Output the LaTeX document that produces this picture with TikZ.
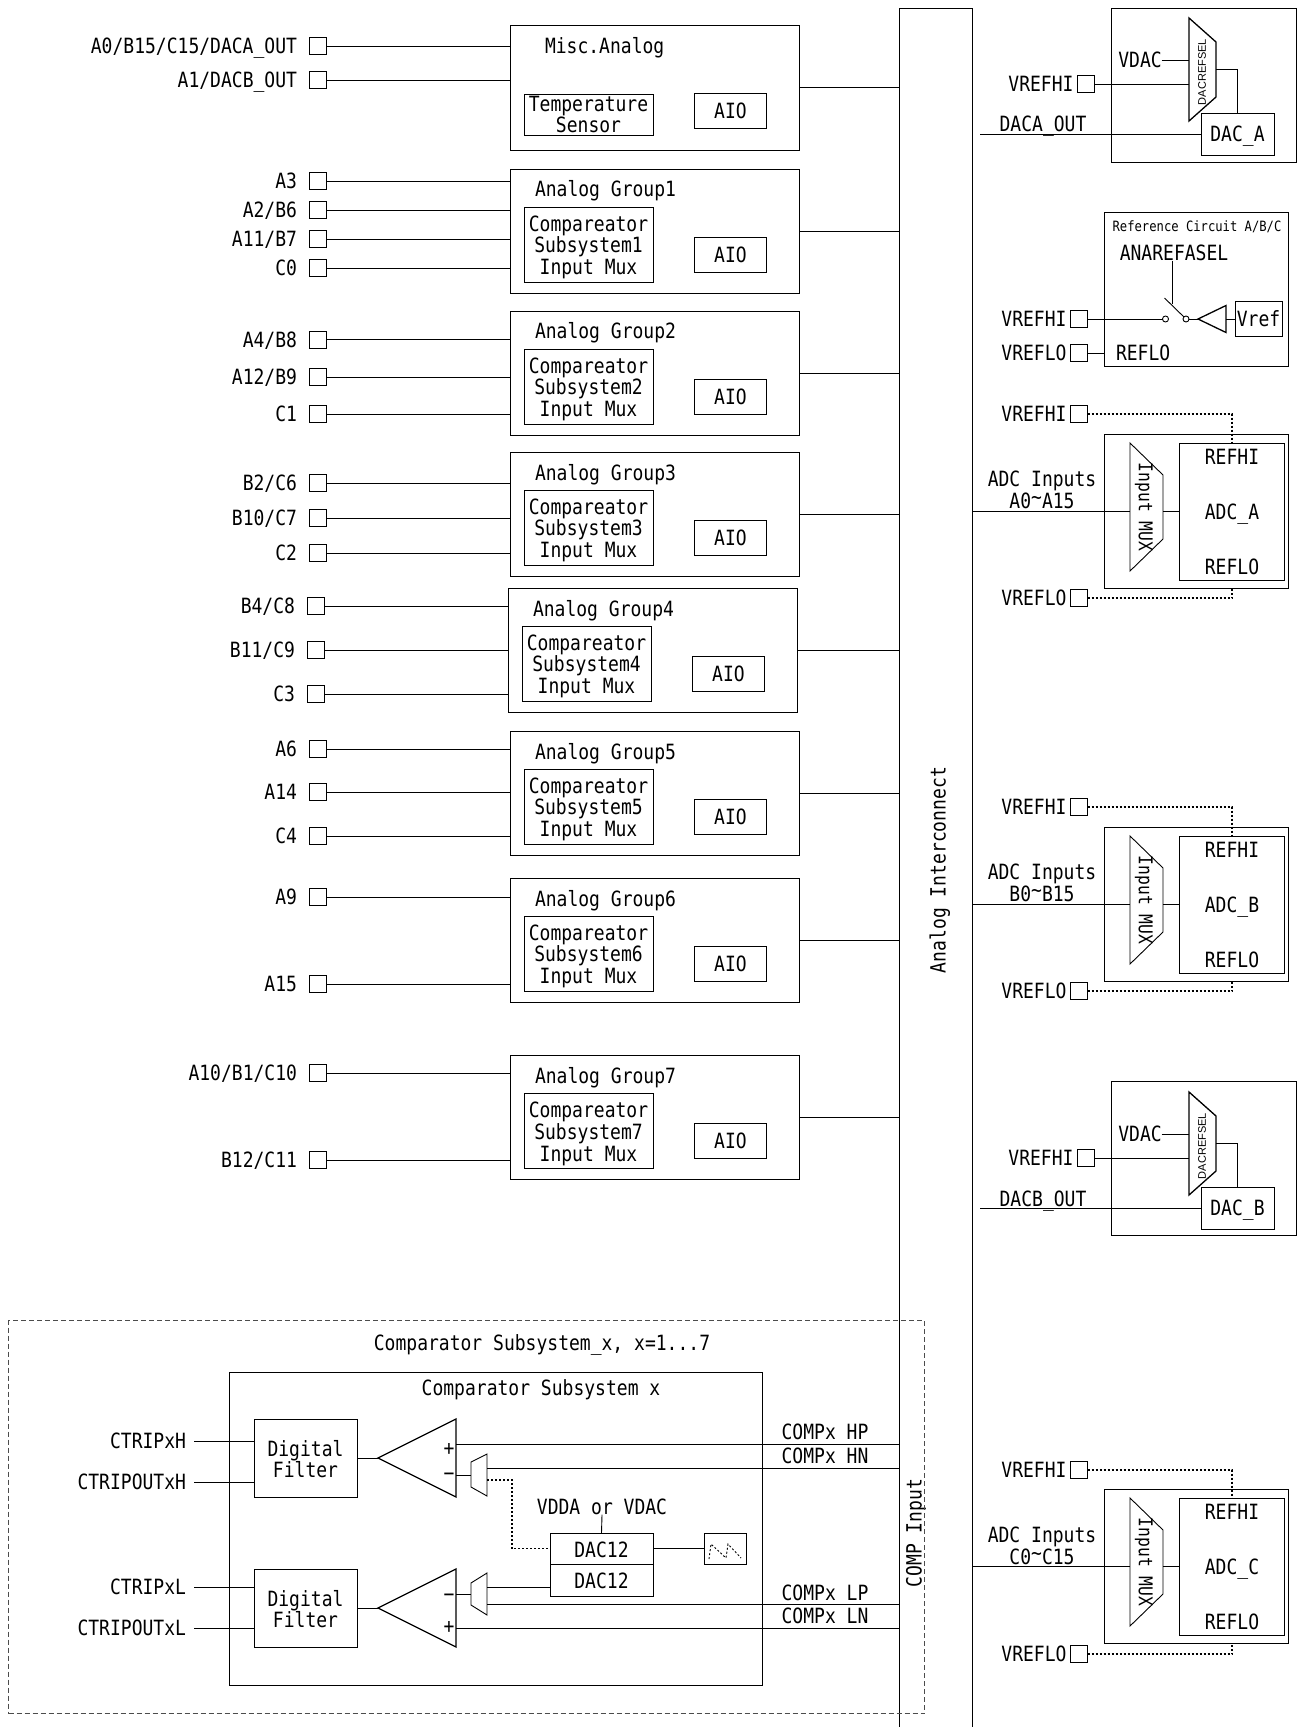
\documentclass[tikz,border=0pt]{standalone}
\usepackage{fontspec}
\setmainfont{DejaVu Sans Mono}[FakeStretch=0.858]
\newfontfamily\selfont{Liberation Sans}
\usetikzlibrary{positioning,calc}

\begin{document}
\begin{tikzpicture}[x=1pt, y=-1pt, font=\fontsize{21}{21.7}\selectfont, line width=0.9pt,
  every node/.style={inner sep=0pt, outer sep=0pt},
  padbox/.style={draw, minimum size=17pt},
  txt/.style={text height=15.3pt, text depth=0pt},
  padlabel/.style={txt},
  groupbox/.style={draw, anchor=north west, minimum width=289.5pt, minimum height=124pt},
  tempbox/.style={draw, align=center, minimum width=129pt, minimum height=41pt},
  muxbox/.style={draw, align=center, minimum width=129pt, minimum height=75pt, text height=64.4pt},
  aiobox/.style={draw, minimum width=72pt, minimum height=35pt},
  plainbox/.style={draw, anchor=north west, minimum width=184pt, minimum height=154pt},
  core/.style={draw, minimum width=105pt, minimum height=137pt},
  muxshape/.style={minimum width=33pt, minimum height=128pt},
  dacsel/.style={anchor=north west, minimum width=27pt, minimum height=103pt},
  dacbox/.style={draw, txt, anchor=north west, minimum width=73pt, minimum height=42pt},
  filter/.style={draw, align=center, anchor=north west, minimum width=103pt, minimum height=78pt, text height=39.7pt},
  opamp/.style={anchor=north west, minimum width=78pt, minimum height=78pt},
  cmpmux/.style={anchor=north west, minimum width=16pt, minimum height=42pt},
  dacunit/.style={draw, anchor=north west, minimum width=103pt, minimum height=31.5pt, text height=17pt, text depth=0pt},
  dotline/.style={line width=1.2pt, dash pattern=on 2pt off 2pt},
  dashbox/.style={draw=black!70, dash pattern=on 5pt off 3pt, anchor=north west, minimum width=916pt, minimum height=393pt},
  sw/.style={draw, circle, minimum size=6pt}]
  \useasboundingbox (0,0) rectangle (1298,1727);

  \node[minimum width=73pt, minimum height=1719pt, anchor=north west] (bus) at (899,8) {};
  \draw (bus.south west) |- (bus.north east) -- (bus.south east);
  \node[txt, rotate=90] (bustext) at (938,870) {Analog Interconnect};
  \node[txt, rotate=90] (compinput) at (914,1533) {COMP Input};

  \node[groupbox, minimum height=125pt] (misc) at (510,25) {};
  \node[txt, below right=13pt and 35pt of misc.north west] (misctitle) {Misc.Analog};
  \node[tempbox, below right=69pt and 14pt of misc.north west] (temp) {Temperature\\Sensor};
  \node[aiobox, below right=68pt and 184.5pt of misc.north west] (aio0) {AIO};
  \draw (misc.east) -- (misc.east -| bus.west);

  \node[groupbox] (group1) at (510,169) {};
  \node[txt, below right=12.5pt and 25pt of group1.north west] (title1) {Analog Group1};
  \node[muxbox, below right=38pt and 14pt of group1.north west] (mux1) {Compareator\\Subsystem1\\Input Mux};
  \node[aiobox, below right=68pt and 184.5pt of group1.north west] (aio1) {AIO};
  \draw (group1.east) -- (group1.east -| bus.west);

  \node[groupbox] (group2) at (510,311) {};
  \node[txt, below right=12.5pt and 25pt of group2.north west] (title2) {Analog Group2};
  \node[muxbox, below right=38pt and 14pt of group2.north west] (mux2) {Compareator\\Subsystem2\\Input Mux};
  \node[aiobox, below right=68pt and 184.5pt of group2.north west] (aio2) {AIO};
  \draw (group2.east) -- (group2.east -| bus.west);

  \node[groupbox] (group3) at (510,452) {};
  \node[txt, below right=13.5pt and 25pt of group3.north west] (title3) {Analog Group3};
  \node[muxbox, below right=38pt and 14pt of group3.north west] (mux3) {Compareator\\Subsystem3\\Input Mux};
  \node[aiobox, below right=68pt and 184.5pt of group3.north west] (aio3) {AIO};
  \draw (group3.east) -- (group3.east -| bus.west);

  \node[groupbox] (group4) at (508,588) {};
  \node[txt, below right=13.5pt and 25pt of group4.north west] (title4) {Analog Group4};
  \node[muxbox, below right=38pt and 14pt of group4.north west] (mux4) {Compareator\\Subsystem4\\Input Mux};
  \node[aiobox, below right=68pt and 184.5pt of group4.north west] (aio4) {AIO};
  \draw (group4.east) -- (group4.east -| bus.west);

  \node[groupbox] (group5) at (510,731) {};
  \node[txt, below right=13.5pt and 25pt of group5.north west] (title5) {Analog Group5};
  \node[muxbox, below right=38pt and 14pt of group5.north west] (mux5) {Compareator\\Subsystem5\\Input Mux};
  \node[aiobox, below right=68pt and 184.5pt of group5.north west] (aio5) {AIO};
  \draw (group5.east) -- (group5.east -| bus.west);

  \node[groupbox] (group6) at (510,878) {};
  \node[txt, below right=13.5pt and 25pt of group6.north west] (title6) {Analog Group6};
  \node[muxbox, below right=38pt and 14pt of group6.north west] (mux6) {Compareator\\Subsystem6\\Input Mux};
  \node[aiobox, below right=68pt and 184.5pt of group6.north west] (aio6) {AIO};
  \draw (group6.east) -- (group6.east -| bus.west);

  \node[groupbox] (group7) at (510,1055.5) {};
  \node[txt, below right=12.5pt and 25pt of group7.north west] (title7) {Analog Group7};
  \node[muxbox, below right=38pt and 14pt of group7.north west] (mux7) {Compareator\\Subsystem7\\Input Mux};
  \node[aiobox, below right=68pt and 184.5pt of group7.north west] (aio7) {AIO};
  \draw (group7.east) -- (group7.east -| bus.west);

  \node[padbox] (pada0) at (317.5,46) {};
  \node[padlabel, left=12pt of pada0] (laba0) {A0/B15/C15/DACA\_OUT};
  \draw (pada0.east) -- (pada0.east -| misc.west);
  \node[padbox] (pada1) at (317.5,80) {};
  \node[padlabel, left=12pt of pada1] (laba1) {A1/DACB\_OUT};
  \draw (pada1.east) -- (pada1.east -| misc.west);

  \node[padbox] (pada3) at (317.5,181) {};
  \node[padlabel, left=12pt of pada3] (laba3) {A3};
  \draw (pada3.east) -- (pada3.east -| group1.west);
  \node[padbox] (pada2) at (317.5,210) {};
  \node[padlabel, left=12pt of pada2] (laba2) {A2/B6};
  \draw (pada2.east) -- (pada2.east -| group1.west);
  \node[padbox] (pada11) at (317.5,239) {};
  \node[padlabel, left=12pt of pada11] (laba11) {A11/B7};
  \draw (pada11.east) -- (pada11.east -| group1.west);
  \node[padbox] (padc0) at (317.5,268) {};
  \node[padlabel, left=12pt of padc0] (labc0) {C0};
  \draw (padc0.east) -- (padc0.east -| group1.west);

  \node[padbox] (pada4) at (317.5,339.5) {};
  \node[padlabel, left=12pt of pada4] (laba4) {A4/B8};
  \draw (pada4.east) -- (pada4.east -| group2.west);
  \node[padbox] (pada12) at (317.5,377) {};
  \node[padlabel, left=12pt of pada12] (laba12) {A12/B9};
  \draw (pada12.east) -- (pada12.east -| group2.west);
  \node[padbox] (padc1) at (317.5,414) {};
  \node[padlabel, left=12pt of padc1] (labc1) {C1};
  \draw (padc1.east) -- (padc1.east -| group2.west);

  \node[padbox] (padb2) at (317.5,483) {};
  \node[padlabel, left=12pt of padb2] (labb2) {B2/C6};
  \draw (padb2.east) -- (padb2.east -| group3.west);
  \node[padbox] (padb10) at (317.5,518) {};
  \node[padlabel, left=12pt of padb10] (labb10) {B10/C7};
  \draw (padb10.east) -- (padb10.east -| group3.west);
  \node[padbox] (padc2) at (317.5,553) {};
  \node[padlabel, left=12pt of padc2] (labc2) {C2};
  \draw (padc2.east) -- (padc2.east -| group3.west);

  \node[padbox] (padb4) at (315.5,606) {};
  \node[padlabel, left=12pt of padb4] (labb4) {B4/C8};
  \draw (padb4.east) -- (padb4.east -| group4.west);
  \node[padbox] (padb11) at (315.5,650) {};
  \node[padlabel, left=12pt of padb11] (labb11) {B11/C9};
  \draw (padb11.east) -- (padb11.east -| group4.west);
  \node[padbox] (padc3) at (315.5,694) {};
  \node[padlabel, left=12pt of padc3] (labc3) {C3};
  \draw (padc3.east) -- (padc3.east -| group4.west);

  \node[padbox] (pada6) at (317.5,749) {};
  \node[padlabel, left=12pt of pada6] (laba6) {A6};
  \draw (pada6.east) -- (pada6.east -| group5.west);
  \node[padbox] (pada14) at (317.5,792) {};
  \node[padlabel, left=12pt of pada14] (laba14) {A14};
  \draw (pada14.east) -- (pada14.east -| group5.west);
  \node[padbox] (padc4) at (317.5,836) {};
  \node[padlabel, left=12pt of padc4] (labc4) {C4};
  \draw (padc4.east) -- (padc4.east -| group5.west);

  \node[padbox] (pada9) at (317.5,897) {};
  \node[padlabel, left=12pt of pada9] (laba9) {A9};
  \draw (pada9.east) -- (pada9.east -| group6.west);
  \node[padbox] (pada15) at (317.5,984) {};
  \node[padlabel, left=12pt of pada15] (laba15) {A15};
  \draw (pada15.east) -- (pada15.east -| group6.west);

  \node[padbox] (pada10) at (317.5,1073) {};
  \node[padlabel, left=12pt of pada10] (laba10) {A10/B1/C10};
  \draw (pada10.east) -- (pada10.east -| group7.west);
  \node[padbox] (padb12) at (317.5,1160) {};
  \node[padlabel, left=12pt of padb12] (labb12) {B12/C11};
  \draw (padb12.east) -- (padb12.east -| group7.west);

  \node[plainbox, minimum width=184.5pt] (outdaca) at (1111.5,8) {};
  \node[dacsel] (selA) at (1189,18) {};
  \draw[line width=1.3pt] (selA.north west) -- ($(selA.north east)+(0,24)$) -- ($(selA.south east)+(0,-24)$) -- (selA.south west) -- cycle;
  \node[rotate=90, font=\selfont\fontsize{11}{12}\selectfont] (seltextA) at (1202,72) {DACREFSEL};
  \node[txt] (vdacA) at (1140,60) {VDAC};
  \draw (vdacA.east) -- (vdacA.east -| selA.west);
  \node[padbox] (padhiA) at (1086,84) {};
  \node[padlabel, left=4pt of padhiA] (labhiA) {VREFHI};
  \draw (padhiA.east) -- (padhiA.east -| selA.west);
  \node[dacbox] (dacA) at (1201,113) {DAC\_A};
  \draw (selA.east) -| (dacA.north);
  \coordinate (endA) at (980,134);
  \draw (endA) -- (dacA.west);
  \node[txt] (outtextA) at (1043,124) {DACA\_OUT};

  \node[plainbox, minimum width=184.5pt] (outdacb) at (1111.5,1081.5) {};
  \node[dacsel] (selB) at (1189,1092) {};
  \draw[line width=1.3pt] (selB.north west) -- ($(selB.north east)+(0,24)$) -- ($(selB.south east)+(0,-24)$) -- (selB.south west) -- cycle;
  \node[rotate=90, font=\selfont\fontsize{11}{12}\selectfont] (seltextB) at (1202,1146) {DACREFSEL};
  \node[txt] (vdacB) at (1140,1134) {VDAC};
  \draw (vdacB.east) -- (vdacB.east -| selB.west);
  \node[padbox] (padhiB) at (1086,1158) {};
  \node[padlabel, left=4pt of padhiB] (labhiB) {VREFHI};
  \draw (padhiB.east) -- (padhiB.east -| selB.west);
  \node[dacbox] (dacB) at (1201,1187) {DAC\_B};
  \draw (selB.east) -| (dacB.north);
  \coordinate (endB) at (980,1208);
  \draw (endB) -- (dacB.west);
  \node[txt] (outtextB) at (1043,1199) {DACB\_OUT};

  \node[plainbox] (refc) at (1104.5,212) {};
  \node[font=\fontsize{14.2}{16}\selectfont] (reftitle) at (1197,227) {Reference Circuit A/B/C};
  \node[txt] (anaref) at (1174,253) {ANAREFASEL};
  \node[sw] (swl) at (1165.5,319) {};
  \node[sw] (swr) at (1186,319) {};
  \coordinate (arma) at (1164.5,298);
  \coordinate (armc) at (1172.5,304);
  \draw (arma) -- (swr);
  \draw (armc |- anaref.south) -- (armc);
  \node[minimum width=28pt, minimum height=27pt] (buf) at (1212,319) {};
  \draw[line width=1.3pt] (buf.west) -- (buf.north east) -- (buf.south east) -- cycle;
  \draw (swr.east) -- (buf.west);
  \node[draw, minimum width=47pt, minimum height=35pt, txt] (vref) at (1258.5,319) {Vref};
  \draw (buf.east) -- (vref.west);
  \node[padbox] (padhiR) at (1079,319) {};
  \node[padlabel, left=4pt of padhiR] (labhiR) {VREFHI};
  \draw (padhiR.east) -- (swl.west);
  \node[padbox] (padloR) at (1079,353) {};
  \node[padlabel, left=4pt of padloR] (labloR) {VREFLO};
  \draw (padloR.east) -- (padloR.east -| refc.west);
  \node[txt, anchor=west] (refloR) at (1116,353) {REFLO};

  \node[plainbox] (outadca) at (1104.5,434) {};
  \node[core, below right=9pt and 75pt of outadca.north west] (coreA) {};
  \node[muxshape, below right=9pt and 25.5pt of outadca.north west] (imuxA) {};
  \draw (imuxA.north west) -- ($(imuxA.north east)+(0,32)$) -- ($(imuxA.south east)+(0,-32)$) -- (imuxA.south west) -- cycle;
  \node[txt, rotate=-90, font=\fontsize{19}{21}\selectfont] (imuxtextA) at (imuxA) {Input MUX};
  \node[txt, below=6pt of coreA.north] (hitextA) {REFHI};
  \node[txt] (adctextA) at (coreA) {ADC\_A};
  \node[txt, above=6pt of coreA.south] (lotextA) {REFLO};
  \draw (coreA.west -| bus.east) -- (coreA.west -| imuxA.west);
  \draw (coreA.west -| imuxA.east) -- (coreA.west);
  \node[txt] (inputsA) at (1042,479) {ADC Inputs};
  \node[txt] (rangeA) at (1042,501) {A0\raisebox{4pt}{\textasciitilde}A15};
  \node[padbox] (padhia) at (1079,414) {};
  \node[padlabel, left=4pt of padhia] (labhia) {VREFHI};
  \draw[dotline] (padhia.east) -| (coreA.north);
  \node[padbox] (padloa) at (1079,598) {};
  \node[padlabel, left=4pt of padloa] (labloa) {VREFLO};
  \draw[dotline] (padloa.east) -| (coreA.north |- outadca.south);

  \node[plainbox] (outadcb) at (1104.5,827) {};
  \node[core, below right=9pt and 75pt of outadcb.north west] (coreB) {};
  \node[muxshape, below right=9pt and 25.5pt of outadcb.north west] (imuxB) {};
  \draw (imuxB.north west) -- ($(imuxB.north east)+(0,32)$) -- ($(imuxB.south east)+(0,-32)$) -- (imuxB.south west) -- cycle;
  \node[txt, rotate=-90, font=\fontsize{19}{21}\selectfont] (imuxtextB) at (imuxB) {Input MUX};
  \node[txt, below=6pt of coreB.north] (hitextB) {REFHI};
  \node[txt] (adctextB) at (coreB) {ADC\_B};
  \node[txt, above=6pt of coreB.south] (lotextB) {REFLO};
  \draw (coreB.west -| bus.east) -- (coreB.west -| imuxB.west);
  \draw (coreB.west -| imuxB.east) -- (coreB.west);
  \node[txt] (inputsB) at (1042,872) {ADC Inputs};
  \node[txt] (rangeB) at (1042,894) {B0\raisebox{4pt}{\textasciitilde}B15};
  \node[padbox] (padhib) at (1079,807) {};
  \node[padlabel, left=4pt of padhib] (labhib) {VREFHI};
  \draw[dotline] (padhib.east) -| (coreB.north);
  \node[padbox] (padlob) at (1079,991) {};
  \node[padlabel, left=4pt of padlob] (lablob) {VREFLO};
  \draw[dotline] (padlob.east) -| (coreB.north |- outadcb.south);

  \node[plainbox] (outadcc) at (1104.5,1489) {};
  \node[core, below right=9pt and 75pt of outadcc.north west] (coreC) {};
  \node[muxshape, below right=9pt and 25.5pt of outadcc.north west] (imuxC) {};
  \draw (imuxC.north west) -- ($(imuxC.north east)+(0,32)$) -- ($(imuxC.south east)+(0,-32)$) -- (imuxC.south west) -- cycle;
  \node[txt, rotate=-90, font=\fontsize{19}{21}\selectfont] (imuxtextC) at (imuxC) {Input MUX};
  \node[txt, below=6pt of coreC.north] (hitextC) {REFHI};
  \node[txt] (adctextC) at (coreC) {ADC\_C};
  \node[txt, above=6pt of coreC.south] (lotextC) {REFLO};
  \draw (coreC.west -| bus.east) -- (coreC.west -| imuxC.west);
  \draw (coreC.west -| imuxC.east) -- (coreC.west);
  \node[txt] (inputsC) at (1042,1535) {ADC Inputs};
  \node[txt] (rangeC) at (1042,1557) {C0\raisebox{4pt}{\textasciitilde}C15};
  \node[padbox] (padhic) at (1079,1470) {};
  \node[padlabel, left=4pt of padhic] (labhic) {VREFHI};
  \draw[dotline] (padhic.east) -| (coreC.north);
  \node[padbox] (padloc) at (1079,1654) {};
  \node[padlabel, left=4pt of padloc] (labloc) {VREFLO};
  \draw[dotline] (padloc.east) -| (coreC.north |- outadcc.south);

  \node[dashbox] (cmpouter) at (8.7,1320.5) {};
  \node[txt] (cmpoutertitle) at (542,1343) {Comparator Subsystem\_x, x=1...7};
  \node[draw, anchor=north west, minimum width=533pt, minimum height=313pt] (cmp) at (229,1372) {};
  \node[txt] (cmptitle) at (541,1388) {Comparator Subsystem x};

  \node[filter] (filth) at (254,1419) {Digital\\Filter};
  \node[filter] (filtl) at (254,1569) {Digital\\Filter};
  \coordinate (cth) at (194,1441);
  \coordinate (coh) at (194,1482);
  \coordinate (ctl) at (194,1587);
  \coordinate (col) at (194,1628);
  \draw (cth) -- (cth -| filth.west);
  \draw (coh) -- (coh -| filth.west);
  \draw (ctl) -- (ctl -| filtl.west);
  \draw (col) -- (col -| filtl.west);
  \node[txt, anchor=east] (cthtext) at (186,1441) {CTRIPxH};
  \node[txt, anchor=east] (cohtext) at (186,1482) {CTRIPOUTxH};
  \node[txt, anchor=east] (ctltext) at (186,1587) {CTRIPxL};
  \node[txt, anchor=east] (coltext) at (186,1628) {CTRIPOUTxL};

  \node[opamp] (oph) at (378,1419) {};
  \draw[line width=1.3pt] (oph.west) -- (oph.north east) -- (oph.south east) -- cycle;
  \node[opamp] (opl) at (378,1569) {};
  \draw[line width=1.3pt] (opl.west) -- (opl.north east) -- (opl.south east) -- cycle;
  \draw (filth.east) -- (oph.west);
  \draw (filtl.east) -- (opl.west);
  \node[font=\fontsize{21}{21}\selectfont] (plush) at (449,1449) {+};
  \node[font=\fontsize{21}{21}\selectfont] (minush) at (449,1477) {−};
  \node[font=\fontsize{21}{21}\selectfont] (minusl) at (449,1598) {−};
  \node[font=\fontsize{21}{21}\selectfont] (plusl) at (449,1627) {+};

  \node[cmpmux] (cmuxh) at (471,1454) {};
  \draw (cmuxh.south west) ++(0,-9) -- ($(cmuxh.north west)+(0,8)$) -- (cmuxh.north east) -- (cmuxh.south east) -- cycle;
  \node[cmpmux] (cmuxl) at (471,1573) {};
  \draw (cmuxl.south west) ++(0,-10) -- ($(cmuxl.north west)+(0,10)$) -- (cmuxl.north east) -- (cmuxl.south east) -- cycle;
  \draw (oph.east |- cmuxh.west) -- (cmuxh.west);
  \draw (opl.east |- cmuxl.west) -- (cmuxl.west);

  \node[dacunit] (dach) at (550,1533) {DAC12};
  \node[dacunit] (dacl) at (550,1564.5) {DAC12};
  \node[draw, anchor=north west, minimum width=42pt, minimum height=31.5pt] (saw) at (704,1533) {};
  \draw (dach.east) -- (saw.west);
  \draw[line width=0.9pt, dash pattern=on 2pt off 2pt] (709,1559) -- (711,1544) -- (726,1558) -- (728,1544) -- (741,1558);
  \node[txt] (vdda) at (602,1507) {VDDA or VDAC};
  \draw (vdda.south) -- (dach.north);

  \coordinate (hp) at (456,1444);
  \coordinate (hn) at (487,1468);
  \coordinate (hd) at (487,1480);
  \coordinate (lc) at (487,1587);
  \coordinate (lp) at (487,1604);
  \coordinate (ln) at (456,1628);
  \draw (hp) -- (hp -| bus.west);
  \draw (hn) -- (hn -| bus.west);
  \draw[dotline] (hd) -| ($(dach.west)+(-38,0)$) -- (dach.west);
  \draw (lc) -- (lc -| dacl.west);
  \draw (lp) -- (lp -| bus.west);
  \draw (ln) -- (ln -| bus.west);
  \node[txt] (hptext) at (825,1432) {COMPx HP};
  \node[txt] (hntext) at (825,1456) {COMPx HN};
  \node[txt] (lptext) at (825,1593) {COMPx LP};
  \node[txt] (lntext) at (825,1616) {COMPx LN};
\end{tikzpicture}
\end{document}
